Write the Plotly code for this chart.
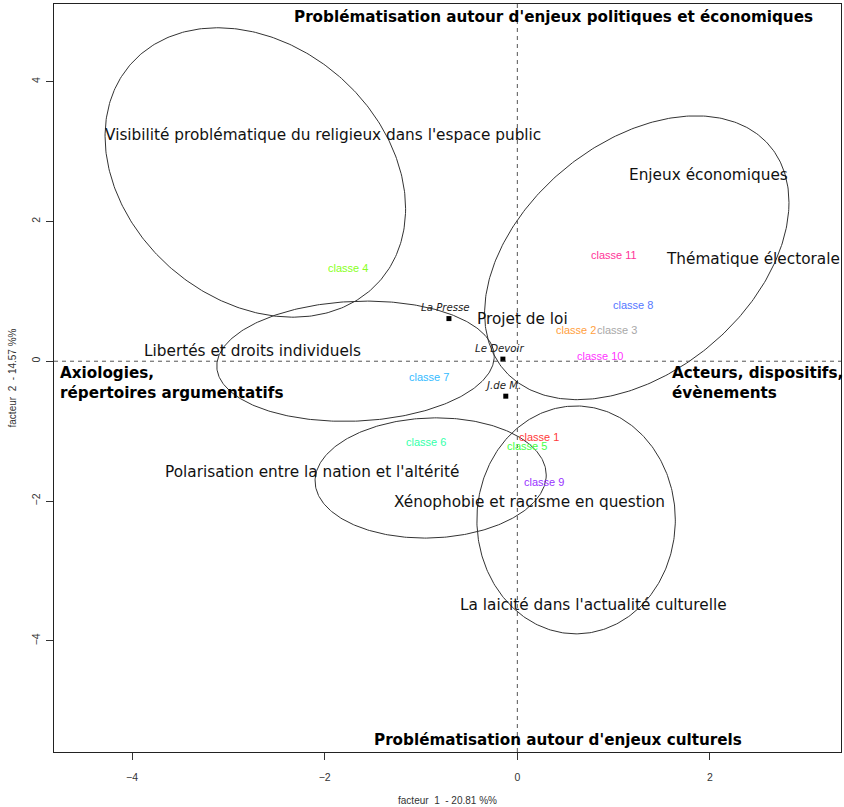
import numpy as np
import plotly.graph_objects as go

# ---- Data ----
class_labels = ["classe 1", "classe 2", "classe 3", "classe 4", "classe 5", "classe 6",
                "classe 7", "classe 8", "classe 9", "classe 10", "classe 11"]
class_x = [0.22, 0.61, 1.03, -1.76, 0.10, -0.95, -0.92, 1.20, 0.28, 0.86, 1.00]
class_y = [-1.09, 0.44, 0.44, 1.33, -1.21, -1.16, -0.22, 0.81, -1.73, 0.08, 1.52]
class_colors = ["#ff3a3a", "#ffa040", "#a8a8a8", "#88ff22", "#44ff44", "#33ffaa",
                "#33bbff", "#5577ff", "#9933ff", "#ff33ff", "#ff3399"]

paper_labels = ["La Presse", "Le Devoir", "J.de M."]
paper_x = [-0.71, -0.15, -0.12]
paper_y = [0.61, 0.03, -0.50]

theme_labels = ["Visibilité problématique du religieux dans l'espace public",
                "Enjeux économiques", "Thématique électorale", "Projet de loi",
                "Libertés et droits individuels",
                "Polarisation entre la nation et l'altérité",
                "Xénophobie et racisme en question",
                "La laicité dans l'actualité culturelle"]
theme_x = [-2.02, 1.98, 2.45, 0.05, -2.75, -2.13, 0.13, 0.79]
theme_y = [3.23, 2.66, 1.46, 0.60, 0.14, -1.59, -2.02, -3.49]

# ellipses: centre, half-width, half-height, correlation
ell_cx = [-2.72, 1.24, -1.68, -0.90, 0.61]
ell_cy = [2.70, 1.48, 0.00, -1.67, -2.27]
ell_sx = [1.56, 1.58, 1.44, 1.20, 1.03]
ell_sy = [2.07, 2.03, 0.86, 0.86, 1.63]
ell_r = [-0.25, 0.39, 0.08, 0.05, 0.0]

axis_labels = ["Problématisation autour d'enjeux politiques et économiques",
               "Problématisation autour d'enjeux culturels",
               "Axiologies,<br>répertoires argumentatifs",
               "Acteurs, dispositifs,<br>évènements"]
axis_lab_x = [0.38, 0.42, -4.77, 1.58]
axis_lab_y = [4.93, -5.42, -0.31, -0.31]
axis_lab_anchor = ["center", "center", "left", "left"]

x_ticks = [-4, -2, 0, 2]
y_ticks = [-4, -2, 0, 2, 4]

fig = go.Figure()

t = np.linspace(0, 2 * np.pi, 361)
for cx, cy, sx, sy, r in zip(ell_cx, ell_cy, ell_sx, ell_sy, ell_r):
    d = np.arccos(r)
    fig.add_trace(go.Scatter(x=cx + sx * np.cos(t), y=cy + sy * np.cos(t - d),
                             mode="lines", line=dict(color="#333333", width=1),
                             hoverinfo="skip", showlegend=False))

fig.add_trace(go.Scatter(x=paper_x, y=paper_y, mode="markers",
                         marker=dict(symbol="square", size=5, color="black"),
                         showlegend=False))

anns = []
for lab, x, y in zip(paper_labels, paper_x, paper_y):
    anns.append(dict(x=x, y=y, text="<i>" + lab + "</i>", showarrow=False,
                     yshift=11, xshift=-3,
                     font=dict(family="DejaVu Sans", size=10.2, color="#222")))
for lab, x, y, c in zip(class_labels, class_x, class_y, class_colors):
    anns.append(dict(x=x, y=y, text=lab, showarrow=False,
                     font=dict(family="Liberation Sans", size=11, color=c)))
for lab, x, y in zip(theme_labels, theme_x, theme_y):
    anns.append(dict(x=x, y=y, text=lab, showarrow=False,
                     font=dict(family="DejaVu Sans", size=15.3, color="#111")))
for lab, x, y, a in zip(axis_labels, axis_lab_x, axis_lab_y, axis_lab_anchor):
    anns.append(dict(x=x, y=y, text="<b>" + lab + "</b>", showarrow=False,
                     xanchor=a, align="left",
                     font=dict(family="DejaVu Sans", size=15.2, color="black")))

fig.update_layout(
    width=844, height=807,
    margin=dict(l=54, r=3, t=4, b=55),
    plot_bgcolor="white", paper_bgcolor="white",
    annotations=anns,
    shapes=[
        dict(type="line", xref="x", yref="y domain", x0=0, x1=0, y0=0, y1=1,
             line=dict(color="#555", width=1, dash="4px,4px")),
        dict(type="line", xref="x domain", yref="y", x0=0, x1=1, y0=0, y1=0,
             line=dict(color="#555", width=1, dash="4px,4px")),
    ],
)
fig.update_xaxes(range=[-4.81, 3.36], tickvals=x_ticks, ticks="outside", ticklen=7,
                 tickcolor="#333", showgrid=False, zeroline=False, showline=True,
                 mirror=True, linecolor="#222", linewidth=1, automargin=False,
                 ticklabelstandoff=8,
                 tickfont=dict(family="Liberation Sans", size=10.5, color="#333"),
                 title=dict(text="facteur  1  - 20.81 %%", standoff=15,
                            font=dict(family="Liberation Sans", size=10, color="#333")))
fig.update_yaxes(range=[-5.59, 5.11], tickvals=y_ticks, ticks="outside", ticklen=7,
                 tickcolor="#333", showgrid=False, zeroline=False, showline=True,
                 mirror=True, linecolor="#222", linewidth=1, tickangle=-90,
                 automargin=False, ticklabelstandoff=2,
                 tickfont=dict(family="Liberation Sans", size=10.5, color="#333"),
                 title=dict(text="facteur  2  - 14.57 %%", standoff=11,
                            font=dict(family="Liberation Sans", size=10, color="#333")))

fig.write_html("out.html",
               config={"displayModeBar": False},
               post_script="document.body.style.margin='0';"
                           "document.body.style.overflow='hidden';")
